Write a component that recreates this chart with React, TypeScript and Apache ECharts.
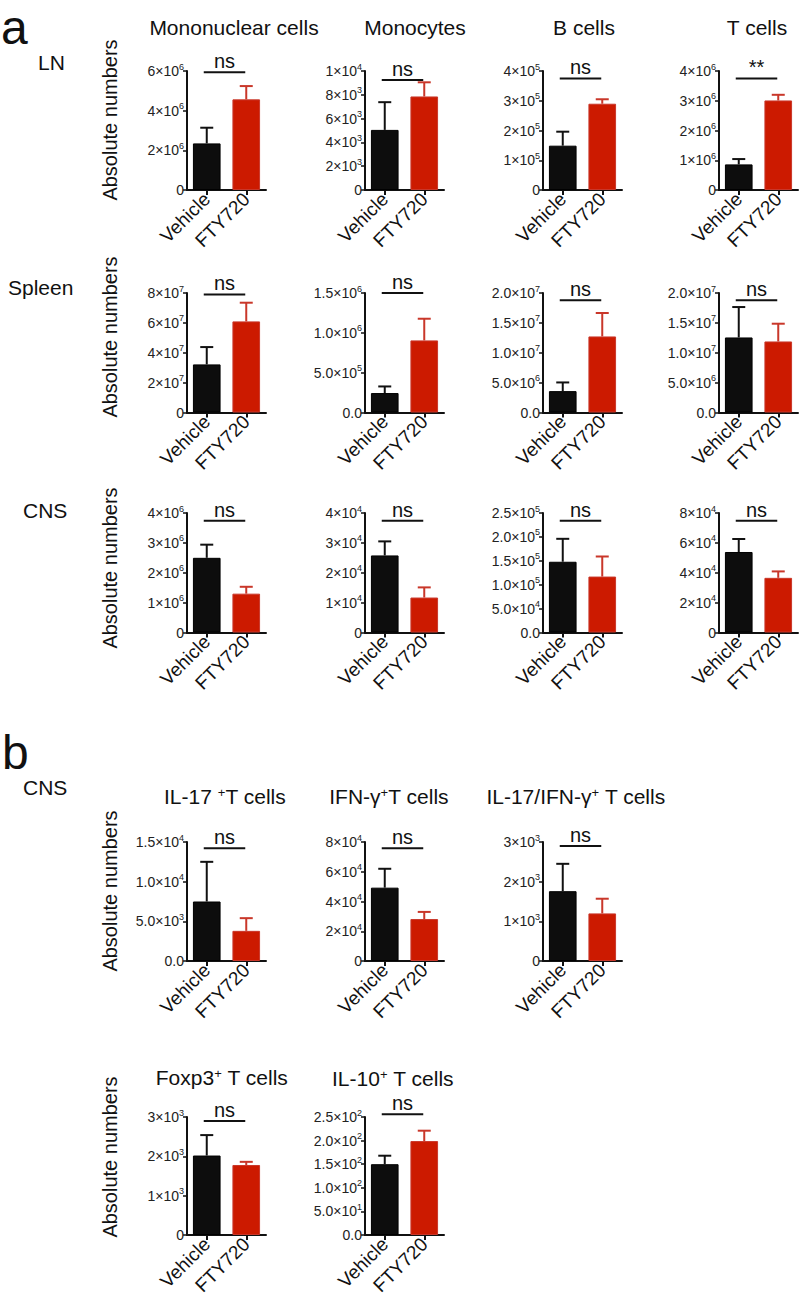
import React, { useEffect, useRef } from 'react';
import * as echarts from 'echarts';

const FONT = '"Liberation Sans", Arial, Helvetica, sans-serif';

// ---------------- data ----------------
const categories = ['Vehicle', 'FTY720'];

const panelTitles = [
  'Mononuclear cells', 'Monocytes', 'B cells', 'T cells',
  '', '', '', '',
  '', '', '', '',
  'IL-17 {s|+}T cells', 'IFN-γ{s|+}T cells', 'IL-17/IFN-γ{s|+} T cells',
  'Foxp3{s|+} T cells', 'IL-10{s|+} T cells',
];

const vehicleMean = [2.35e6, 5.05e3, 1.49e5, 0.86e6, 3.22e7, 2.44e5, 3.58e6, 1.256e7, 2.5e6, 2.58e4, 1.48e5, 5.39e4, 7.5e3, 4.93e4, 1.76e3, 2.02e3, 1.5e2];
const vehicleUpper = [3.14e6, 7.38e3, 1.96e5, 1.04e6, 4.38e7, 3.27e5, 5.03e6, 1.765e7, 2.94e6, 3.05e4, 1.96e5, 6.26e4, 1.25e4, 6.2e4, 2.45e3, 2.54e3, 1.68e2];
const ftyMean = [4.57e6, 7.86e3, 2.9e5, 3.01e6, 6.1e7, 9.05e5, 1.273e7, 1.189e7, 1.3e6, 1.17e4, 1.17e5, 3.66e4, 3.8e3, 2.82e4, 1.2e3, 1.78e3, 1.99e2];
const ftyUpper = [5.24e6, 9.05e3, 3.05e5, 3.2e6, 7.35e7, 1.177e6, 1.665e7, 1.486e7, 1.53e6, 1.51e4, 1.59e5, 4.09e4, 5.4e3, 3.3e4, 1.57e3, 1.86e3, 2.21e2];

const axisMax = [6e6, 1e4, 4e5, 4e6, 8e7, 1.5e6, 2e7, 2e7, 4e6, 4e4, 2.5e5, 8e4, 1.5e4, 8e4, 3e3, 3e3, 2.5e2];
const axisInterval = [2e6, 2e3, 1e5, 1e6, 2e7, 5e5, 5e6, 5e6, 1e6, 1e4, 5e4, 2e4, 5e3, 2e4, 1e3, 1e3, 5e1];
const decimalTicks = [false, false, false, false, false, true, true, true, false, false, true, false, true, false, false, false, true];

const sigLabels = ['ns', 'ns', 'ns', '**', 'ns', 'ns', 'ns', 'ns', 'ns', 'ns', 'ns', 'ns', 'ns', 'ns', 'ns', 'ns', 'ns'];
const sigLevel = [5.94e6, 9.25e3, 3.75e5, 3.75e6, 7.9e7, 1.5e6, 1.88e7, 1.88e7, 3.74e6, 3.74e4, 2.34e5, 7.48e4, 1.42e4, 7.58e4, 2.9e3, 2.9e3, 2.56e2];

const rowLabels = ['LN', 'Spleen', 'CNS', 'CNS'];
const panelLetters = ['a', 'b'];
const yAxisName = 'Absolute numbers';

// ---------------- layout ----------------
const panelRow = [0, 0, 0, 0, 1, 1, 1, 1, 2, 2, 2, 2, 3, 3, 3, 4, 4];
const panelCol = [0, 1, 2, 3, 0, 1, 2, 3, 0, 1, 2, 3, 0, 1, 2, 0, 1];
const colLeft = [187, 365, 543, 719];
const rowTop = [71, 293, 513, 842, 1117];
const rowBottom = [190, 412.5, 632.5, 961, 1235];
const plotWidth = 79;
const titlePos: Record<number, [number, number]> = {
  0: [234, 27], 1: [415, 27], 2: [584, 27], 3: [757, 27],
  12: [225, 796], 13: [389, 796], 14: [576, 796],
  15: [222, 1077], 16: [393, 1078],
};
const axisNameY = [120, 337, 568, 891, 1157];
const rowLabelPos: [number, number][] = [[38, 62], [8, 287], [23, 510], [23, 787]];
const letterPos: [number, number][] = [[1, 27], [2, 752]];

const BLACK = '#0d0d0d';
const RED = '#cc1a00';
const RED_LINE = '#c9372a';
const INK = '#111';

function tickLabel(v: number, decimal: boolean): string {
  if (v === 0) return decimal ? '{b|0.0}' : '{b|0}';
  const e = Math.floor(Math.log10(v) + 1e-9);
  const m = v / Math.pow(10, e);
  const ms = decimal ? (Math.round(m * 10) / 10).toFixed(1) : String(Math.round(m));
  return `{b|${ms}×10}{s|${e}}`;
}

function buildOption() {
  const n = vehicleMean.length;
  const grid: any[] = [];
  const xAxis: any[] = [];
  const yAxis: any[] = [];
  const series: any[] = [];

  for (let i = 0; i < n; i++) {
    const r = panelRow[i];
    const c = panelCol[i];
    grid.push({
      left: colLeft[c],
      top: rowTop[r],
      width: plotWidth,
      height: rowBottom[r] - rowTop[r],
      containLabel: false,
      outerBoundsMode: 'none',
    });
    xAxis.push({
      type: 'category',
      gridIndex: i,
      data: categories,
      axisLine: { show: true, lineStyle: { color: INK, width: 2 } },
      axisTick: { show: true, alignWithLabel: true, length: 5, lineStyle: { color: INK, width: 2 } },
      axisLabel: {
        interval: 0,
        rotate: 45,
        margin: 6,
        fontSize: 19,
        color: INK,
        fontFamily: FONT,
      },
      splitLine: { show: false },
    });
    const dec = decimalTicks[i];
    yAxis.push({
      type: 'value',
      gridIndex: i,
      min: 0,
      max: axisMax[i],
      interval: axisInterval[i],
      axisLine: { show: true, lineStyle: { color: INK, width: 2 } },
      axisTick: { show: true, length: 4, lineStyle: { color: INK, width: 1.5 } },
      splitLine: { show: false },
      axisLabel: {
        margin: 3,
        formatter: (v: number) => tickLabel(v, dec),
        rich: {
          b: { fontSize: 14, color: '#222', fontFamily: FONT, lineHeight: 18 },
          s: { fontSize: 9, color: '#222', fontFamily: FONT, verticalAlign: 'top', lineHeight: 9 },
        },
      },
    });
    series.push({
      type: 'bar',
      xAxisIndex: i,
      yAxisIndex: i,
      barWidth: '70%',
      data: [
        { value: vehicleMean[i], itemStyle: { color: BLACK, borderColor: '#000', borderWidth: 1 } },
        { value: ftyMean[i], itemStyle: { color: RED, borderColor: RED_LINE, borderWidth: 1 } },
      ],
      z: 2,
    });
    series.push({
      type: 'custom',
      xAxisIndex: i,
      yAxisIndex: i,
      clip: false,
      z: 3,
      encode: { x: 0, y: 1 },
      data: [
        [0, vehicleMean[i], vehicleUpper[i]],
        [1, ftyMean[i], ftyUpper[i]],
      ],
      renderItem: (params: any, api: any) => {
        const idx = api.value(0);
        const top = api.coord([idx, api.value(1)]);
        const end = api.coord([idx, api.value(2)]);
        const color = idx === 0 ? INK : RED_LINE;
        return {
          type: 'group',
          children: [
            { type: 'line', shape: { x1: top[0], y1: top[1], x2: end[0], y2: end[1] }, style: { stroke: color, lineWidth: 2 } },
            { type: 'line', shape: { x1: end[0] - 6.5, y1: end[1], x2: end[0] + 6.5, y2: end[1] }, style: { stroke: color, lineWidth: 2 } },
          ],
        };
      },
    });
    const label = sigLabels[i];
    series.push({
      type: 'custom',
      xAxisIndex: i,
      yAxisIndex: i,
      clip: false,
      z: 4,
      encode: { x: 0, y: 1 },
      data: [[0, sigLevel[i]]],
      renderItem: (params: any, api: any) => {
        const a = api.coord([0, api.value(1)]);
        const b = api.coord([1, api.value(1)]);
        const mid = (a[0] + b[0]) / 2 - 2;
        return {
          type: 'group',
          children: [
            { type: 'line', shape: { x1: a[0] - 3, y1: a[1], x2: b[0] - 1, y2: a[1] }, style: { stroke: INK, lineWidth: 2 } },
            {
              type: 'text',
              style: {
                text: label,
                x: mid,
                y: a[1] - 11,
                align: 'center',
                verticalAlign: 'middle',
                textAlign: 'center',
                textVerticalAlign: 'middle',
                fontSize: 20,
                fontFamily: FONT,
                fill: INK,
              },
            },
          ],
        };
      },
    });
  }

  const graphic: any[] = [];
  const txt = (text: string, x: number, y: number, size: number, align: string, extra: any = {}) => ({
    type: 'text',
    x,
    y,
    ...extra,
    style: {
      text,
      fontSize: size,
      fontFamily: FONT,
      fill: INK,
      align,
      verticalAlign: 'middle',
      textAlign: align,
      textVerticalAlign: 'middle',
      rich: {
        s: { fontSize: 13, fontFamily: FONT, fill: INK, color: INK, verticalAlign: 'top', lineHeight: 12 },
      },
    },
  });

  panelLetters.forEach((l, k) => graphic.push(txt(l, letterPos[k][0], letterPos[k][1], 48, 'left')));
  rowLabels.forEach((l, k) => graphic.push(txt(l, rowLabelPos[k][0], rowLabelPos[k][1], 21, 'left')));
  axisNameY.forEach((y) => graphic.push(txt(yAxisName, 110, y, 20, 'center', { rotation: Math.PI / 2 })));
  panelTitles.forEach((t, i) => {
    if (!t) return;
    const p = titlePos[i];
    graphic.push(txt(t, p[0], p[1], 21, 'center'));
  });

  return {
    animation: false,
    backgroundColor: '#ffffff',
    grid,
    xAxis,
    yAxis,
    series,
    graphic,
  };
}

export default function App() {
  const ref = useRef<HTMLDivElement>(null);
  useEffect(() => {
    if (!ref.current) return;
    const chart = echarts.init(ref.current, undefined, { renderer: 'svg' });
    chart.setOption(buildOption() as any);
    return () => chart.dispose();
  }, []);
  return (
    <div
      ref={ref}
      style={{ position: 'absolute', left: 0, top: 0, width: 800, height: 1310, background: '#fff' }}
    />
  );
}
